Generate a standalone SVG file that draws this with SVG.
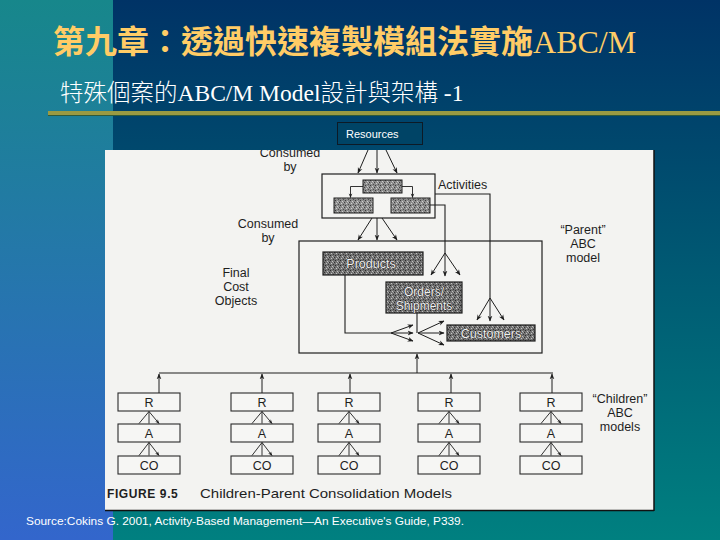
<svg xmlns="http://www.w3.org/2000/svg" width="720" height="540" viewBox="0 0 720 540">
<defs>
  <linearGradient id="bgMain" x1="0" y1="0" x2="0" y2="1">
    <stop offset="0" stop-color="#003366"/>
    <stop offset="1" stop-color="#008080"/>
  </linearGradient>
  <linearGradient id="bgStrip" x1="0" y1="0" x2="0" y2="1">
    <stop offset="0" stop-color="#17878b"/>
    <stop offset="1" stop-color="#3366cc"/>
  </linearGradient>
  <pattern id="spk" width="5" height="5" patternUnits="userSpaceOnUse">
    <rect width="5" height="5" fill="#8c8c8c"/>
    <rect x="0" y="0" width="1" height="1" fill="#3a3a3a"/>
    <rect x="2" y="1" width="1" height="1" fill="#d0d0d0"/>
    <rect x="4" y="2" width="1" height="1" fill="#404040"/>
    <rect x="1" y="3" width="1" height="1" fill="#cfcfcf"/>
    <rect x="3" y="4" width="1" height="1" fill="#505050"/>
    <rect x="3" y="2" width="1" height="1" fill="#b5b5b5"/>
  </pattern>
  <pattern id="spk2" width="5" height="5" patternUnits="userSpaceOnUse">
    <rect width="5" height="5" fill="#727272"/>
    <rect x="0" y="0" width="1" height="1" fill="#2a2a2a"/>
    <rect x="2" y="1" width="1" height="1" fill="#c0c0c0"/>
    <rect x="4" y="2" width="1" height="1" fill="#303030"/>
    <rect x="1" y="3" width="1" height="1" fill="#c4c4c4"/>
    <rect x="3" y="4" width="1" height="1" fill="#3a3a3a"/>
    <rect x="3" y="2" width="1" height="1" fill="#a0a0a0"/>
  </pattern>
  <marker id="ah" viewBox="0 0 10 10" refX="9" refY="5" markerWidth="6" markerHeight="6" orient="auto">
    <path d="M0,1 L10,5 L0,9 L3,5 z" fill="#1e1e1e"/>
  </marker>
  <marker id="ahs" viewBox="0 0 10 10" refX="9" refY="5" markerWidth="5" markerHeight="5" orient="auto">
    <path d="M0,1 L10,5 L0,9 L3,5 z" fill="#1e1e1e"/>
  </marker>
  <clipPath id="figClip"><rect x="105" y="150" width="549" height="360"/></clipPath>
  <style>
    .fig { font-family: "Liberation Sans", Arial, sans-serif; fill: #1e1e1e; }
    .lbl { font-size: 12.5px; text-anchor: middle; }
    .ln { stroke: #1e1e1e; stroke-width: 1.1; fill: none; }
    .ar { stroke: #1e1e1e; stroke-width: 1; fill: none; marker-end: url(#ah); }
    .ars { stroke: #1e1e1e; stroke-width: 0.9; fill: none; marker-end: url(#ahs); }
    .box { fill: #f4f4f2; stroke: #1e1e1e; stroke-width: 1.2; }
    .cbox { fill: #f6f6f4; stroke: #2a2a2a; stroke-width: 1.1; }
    .hbox { fill: url(#spk); stroke: #1e1e1e; stroke-width: 1; }
    .hbox2 { fill: url(#spk2); stroke: #1e1e1e; stroke-width: 1.2; }
    .htxt { font-family: "Liberation Sans", Arial, sans-serif; font-size: 12.5px; text-anchor: middle; fill: #f0f0f0; stroke: #111; stroke-width: 0.7; paint-order: stroke; }
  </style>
</defs>

<!-- background -->
<rect x="0" y="0" width="720" height="540" fill="url(#bgMain)"/>
<rect x="0" y="0" width="113" height="540" fill="url(#bgStrip)"/>
<rect x="48" y="111" width="672" height="4" fill="#9a9a42"/>
<rect x="48" y="115" width="672" height="1" fill="#2f5a3a"/>

<!-- titles -->
<text x="53" y="53" font-size="32" fill="#ffcc66"><tspan font-family="'Noto Sans CJK TC', 'Noto Sans CJK SC', sans-serif" font-weight="bold">第九章：透過快速複製模組法實施</tspan><tspan font-family="'Liberation Serif', serif">ABC/M</tspan></text>
<text x="60" y="101" font-size="23.5" fill="#ffffff" font-family="'Liberation Serif', 'Noto Sans CJK TC', serif"><tspan font-family="'Noto Sans CJK TC', sans-serif" font-weight="300">特殊個案的</tspan>ABC/M Model<tspan font-family="'Noto Sans CJK TC', sans-serif" font-weight="300">設計與架構</tspan> -1</text>

<!-- figure background -->
<g id="figure">
  <rect x="105" y="150" width="549" height="360" fill="#f3f3f1"/>
  <line x1="654" y1="150" x2="654" y2="511" stroke="#111" stroke-width="1.5"/>
  <line x1="105" y1="510.5" x2="654" y2="510.5" stroke="#111" stroke-width="1.5"/>
</g>

<!-- Resources label -->
<g id="resources">
  <rect x="337.5" y="122.5" width="85" height="22" fill="#004466" stroke="#0d1a26" stroke-width="1"/>
  <text x="346" y="137.5" font-family="'Liberation Sans', Arial, sans-serif" font-size="11" fill="#ffffff">Resources</text>
</g>

<g clip-path="url(#figClip)">
<!-- nodes -->
<g id="activities">
  <rect class="box" x="322" y="174" width="113" height="44"/>
  <rect class="hbox" x="363" y="180" width="39" height="13"/>
  <rect class="hbox" x="334" y="198" width="39" height="15"/>
  <rect class="hbox" x="391" y="198" width="39" height="15"/>
  <text class="fig" x="438" y="189" font-size="12.5">Activities</text>
</g>
<g id="parent-box">
  <rect class="box" x="299" y="241" width="243" height="112" fill="none"/>
</g>
<g id="products">
  <rect class="hbox2" x="323" y="252" width="100" height="23"/>
  <text class="htxt" x="371" y="268">Products</text>
</g>
<g id="orders">
  <rect class="hbox2" x="386" y="282" width="76" height="31"/>
  <text class="htxt" x="424" y="295.5" style="font-size:12px">Orders/</text>
  <text class="htxt" x="424" y="309.5" style="font-size:12px">Shipments</text>
</g>
<g id="customers">
  <rect class="hbox2" x="447" y="325" width="88" height="16"/>
  <text class="htxt" x="491" y="337.5">Customers</text>
</g>

<g id="labels" class="fig">
  <text class="lbl" x="290" y="157">Consumed</text>
  <text class="lbl" x="290" y="171">by</text>
  <text class="lbl" x="268" y="228">Consumed</text>
  <text class="lbl" x="268" y="242">by</text>
  <text class="lbl" x="236" y="277">Final</text>
  <text class="lbl" x="236" y="291">Cost</text>
  <text class="lbl" x="236" y="305">Objects</text>
  <text class="lbl" x="583" y="234">“Parent”</text>
  <text class="lbl" x="583" y="248">ABC</text>
  <text class="lbl" x="583" y="262">model</text>
  <text class="lbl" x="620" y="403">“Children”</text>
  <text class="lbl" x="620" y="417">ABC</text>
  <text class="lbl" x="620" y="431">models</text>
  <text x="107" y="498" font-size="12" font-weight="bold" letter-spacing="0.6">FIGURE 9.5</text>
  <text x="200" y="498" font-size="13" textLength="252" lengthAdjust="spacingAndGlyphs">Children-Parent Consolidation Models</text>
</g>

<!-- children models -->
<g id="child-1">
  <rect class="cbox" x="118" y="393" width="62" height="18"/><text class="fig lbl" x="149" y="406.5" font-size="11">R</text>
  <rect class="cbox" x="118" y="424" width="62" height="18"/><text class="fig lbl" x="149" y="437.5" font-size="11">A</text>
  <rect class="cbox" x="118" y="456" width="62" height="18"/><text class="fig lbl" x="149" y="469.5" font-size="11">CO</text>
</g>
<g id="child-2">
  <rect class="cbox" x="231" y="393" width="62" height="18"/><text class="fig lbl" x="262" y="406.5" font-size="11">R</text>
  <rect class="cbox" x="231" y="424" width="62" height="18"/><text class="fig lbl" x="262" y="437.5" font-size="11">A</text>
  <rect class="cbox" x="231" y="456" width="62" height="18"/><text class="fig lbl" x="262" y="469.5" font-size="11">CO</text>
</g>
<g id="child-3">
  <rect class="cbox" x="318" y="393" width="62" height="18"/><text class="fig lbl" x="349" y="406.5" font-size="11">R</text>
  <rect class="cbox" x="318" y="424" width="62" height="18"/><text class="fig lbl" x="349" y="437.5" font-size="11">A</text>
  <rect class="cbox" x="318" y="456" width="62" height="18"/><text class="fig lbl" x="349" y="469.5" font-size="11">CO</text>
</g>
<g id="child-4">
  <rect class="cbox" x="418" y="393" width="62" height="18"/><text class="fig lbl" x="449" y="406.5" font-size="11">R</text>
  <rect class="cbox" x="418" y="424" width="62" height="18"/><text class="fig lbl" x="449" y="437.5" font-size="11">A</text>
  <rect class="cbox" x="418" y="456" width="62" height="18"/><text class="fig lbl" x="449" y="469.5" font-size="11">CO</text>
</g>
<g id="child-5">
  <rect class="cbox" x="520" y="393" width="62" height="18"/><text class="fig lbl" x="551" y="406.5" font-size="11">R</text>
  <rect class="cbox" x="520" y="424" width="62" height="18"/><text class="fig lbl" x="551" y="437.5" font-size="11">A</text>
  <rect class="cbox" x="520" y="456" width="62" height="18"/><text class="fig lbl" x="551" y="469.5" font-size="11">CO</text>
</g>

<!-- connectors -->
<g id="connectors">
  <line class="ar" x1="368" y1="150" x2="358" y2="173"/>
  <line class="ar" x1="377" y1="150" x2="377" y2="173"/>
  <line class="ar" x1="386" y1="150" x2="397" y2="173"/>
  <path class="ars" d="M363,186.5 H350.5 V197.5"/>
  <path class="ars" d="M402,186.5 H412.5 V197.5"/>
  <line class="ar" x1="372" y1="218" x2="358" y2="240"/>
  <line class="ar" x1="377" y1="218" x2="377" y2="240"/>
  <line class="ar" x1="382" y1="218" x2="397" y2="240"/>
  <path class="ln" d="M435,194 H490 V298" stroke-width="0.9"/>
  <line class="ar" x1="490" y1="298" x2="477" y2="320"/>
  <line class="ar" x1="490" y1="298" x2="490" y2="321"/>
  <line class="ar" x1="490" y1="298" x2="504" y2="320"/>
  <path class="ln" d="M430,205 H445 V253" stroke-width="0.9"/>
  <line class="ar" x1="445" y1="253" x2="431" y2="275"/>
  <line class="ar" x1="445" y1="253" x2="445" y2="276"/>
  <line class="ar" x1="445" y1="253" x2="460" y2="275"/>
  <path class="ln" d="M345,275 V333 H391"/>
  <line class="ar" x1="391" y1="333" x2="413" y2="325"/>
  <line class="ar" x1="391" y1="333" x2="413" y2="333"/>
  <line class="ar" x1="391" y1="333" x2="413" y2="341"/>
  <path class="ln" d="M417,313 V333"/>
  <line class="ar" x1="418" y1="333" x2="444" y2="321"/>
  <line class="ar" x1="418" y1="333" x2="444" y2="333"/>
  <line class="ar" x1="418" y1="333" x2="444" y2="345"/>
  <path class="ln" d="M159,373 H553"/>
  <line class="ar" x1="417" y1="373" x2="417" y2="354"/>
  <line class="ar" x1="159" y1="393" x2="159" y2="374"/>
  <line class="ar" x1="262" y1="393" x2="262" y2="374"/>
  <line class="ar" x1="350" y1="393" x2="350" y2="374"/>
  <line class="ar" x1="451" y1="393" x2="451" y2="374"/>
  <line class="ar" x1="552" y1="393" x2="552" y2="374"/>
  <g id="fans">
    <path class="ars" d="M149,411.5 L139,423.5 M149,411.5 L149,423.5 M149,411.5 L159,423.5"/>
    <path class="ars" d="M149,442.5 L139,455.5 M149,442.5 L149,455.5 M149,442.5 L159,455.5"/>
    <path class="ars" d="M262,411.5 L252,423.5 M262,411.5 L262,423.5 M262,411.5 L272,423.5"/>
    <path class="ars" d="M262,442.5 L252,455.5 M262,442.5 L262,455.5 M262,442.5 L272,455.5"/>
    <path class="ars" d="M349,411.5 L339,423.5 M349,411.5 L349,423.5 M349,411.5 L359,423.5"/>
    <path class="ars" d="M349,442.5 L339,455.5 M349,442.5 L349,455.5 M349,442.5 L359,455.5"/>
    <path class="ars" d="M449,411.5 L439,423.5 M449,411.5 L449,423.5 M449,411.5 L459,423.5"/>
    <path class="ars" d="M449,442.5 L439,455.5 M449,442.5 L449,455.5 M449,442.5 L459,455.5"/>
    <path class="ars" d="M551,411.5 L541,423.5 M551,411.5 L551,423.5 M551,411.5 L561,423.5"/>
    <path class="ars" d="M551,442.5 L541,455.5 M551,442.5 L551,455.5 M551,442.5 L561,455.5"/>
  </g>
</g>
</g>

<!-- source -->
<text x="26" y="525" font-family="'Liberation Sans', Arial, sans-serif" font-size="11" fill="#ffffff" textLength="438" lengthAdjust="spacingAndGlyphs">Source:Cokins G. 2001, Activity-Based Management—An Executive's Guide, P339.</text>
</svg>
